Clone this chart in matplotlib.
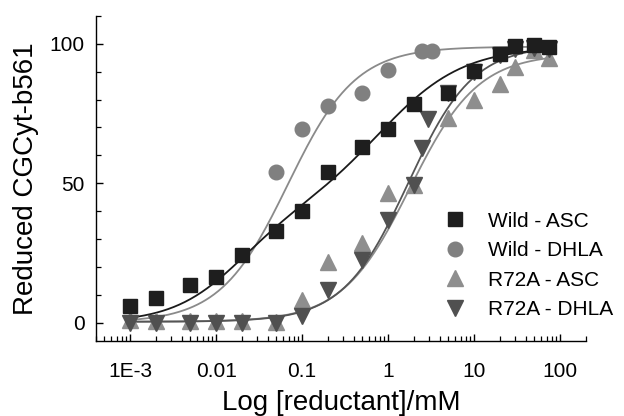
import matplotlib
matplotlib.use("Agg")
import matplotlib.pyplot as plt
import numpy as np
from matplotlib.ticker import LogLocator, MultipleLocator, FixedLocator

plt.rcParams['font.family'] = ['Liberation Sans', 'DejaVu Sans']

# concentrations (mM)
conc = [0.001, 0.002, 0.005, 0.01, 0.02, 0.05, 0.1, 0.2, 0.5, 1, 2, 5, 10, 20, 30, 50, 75]

# Wild - ASC
wild_asc_x = conc
wild_asc_y = [6.1, 8.8, 13.5, 16.2, 24.3, 32.9, 40.1, 54.2, 63.0, 69.5, 78.6, 82.4, 90.2, 96.5, 99.4, 99.7, 98.9]

# Wild - DHLA
wild_dhla_x = [0.05, 0.1, 0.2, 0.5, 1, 2.45, 3.2]
wild_dhla_y = [54.2, 69.5, 77.8, 82.4, 90.8, 97.3, 97.3]

# R72A - ASC
r72a_asc_x = conc
r72a_asc_y = [1.0, 0.5, 0.5, 0.5, 0.5, 0.3, 8.2, 21.9, 28.6, 46.5, 49.5, 73.4, 79.7, 85.7, 91.7, 97.7, 95.0]

# R72A - DHLA
r72a_dhla_x = [0.001, 0.002, 0.005, 0.01, 0.02, 0.05, 0.1, 0.2, 0.5, 1, 2, 2.45, 2.9, 5, 10, 20, 30, 50, 75]
r72a_dhla_y = [0.0, 0.0, 0.0, 0.0, 0.0, 0.0, 2.5, 11.7, 22.5, 36.9, 49.5, 62.6, 73.0, 82.4, 90.0, 96.0, 98.0, 98.5, 98.0]

# fitted curve parameters (Hill; Wild - ASC is two-phase)
wild_asc_fit = [(40.0, 0.018, 1.1), (59.0, 0.85, 0.9)]   # (amplitude, EC50, n)
wild_dhla_fit = (0.0, 99.0, 0.068, 1.1)                   # (bottom, top, EC50, n)
r72a_asc_fit = (0.3, 96.5, 1.8, 1.1)
r72a_dhla_fit = (0.3, 99.5, 1.7, 1.15)


def hill(x, bottom, top, ec50, n):
    return bottom + (top - bottom) / (1 + (ec50 / x) ** n)


xf = np.logspace(-3, np.log10(75), 300)
y_wild_asc = sum(a / (1 + (c / xf) ** n) for a, c, n in wild_asc_fit)

fig = plt.figure(figsize=(6.24, 4.16), dpi=100)
ax = fig.add_axes([96 / 624, 1 - 340.7 / 416, 490 / 624, 324.7 / 416])

ax.plot(xf, hill(xf, *r72a_asc_fit), color='#8c8c8c', lw=1.3, zorder=2)
ax.plot(xf, hill(xf, *r72a_dhla_fit), color='#555555', lw=1.3, zorder=2)
ax.plot(xf, hill(xf, *wild_dhla_fit), color='#8a8a8a', lw=1.3, zorder=2)
ax.plot(xf, y_wild_asc, color='#1a1a1a', lw=1.3, zorder=2)

ax.plot(wild_asc_x, wild_asc_y, 's', color='#1e1e1e', ms=9.5, ls='none', label='Wild - ASC', zorder=6)
ax.plot(wild_dhla_x, wild_dhla_y, 'o', color='#808080', ms=10.5, ls='none', label='Wild - DHLA', zorder=3)
ax.plot(r72a_asc_x, r72a_asc_y, '^', color='#8e8e8e', ms=11, ls='none', label='R72A - ASC', zorder=4)
ax.plot(r72a_dhla_x, r72a_dhla_y, 'v', color='#505050', ms=11, ls='none', label='R72A - DHLA', zorder=5)

ax.set_xscale('log')
ax.set_xlim(4e-4, 200)
ax.set_ylim(-6.5, 110)

ax.xaxis.set_major_locator(FixedLocator([1e-3, 1e-2, 1e-1, 1, 10, 100]))
ax.set_xticklabels(['1E-3', '0.01', '0.1', '1', '10', '100'])
ax.xaxis.set_minor_locator(LogLocator(base=10, subs=np.arange(2, 10), numticks=20))
ax.yaxis.set_major_locator(FixedLocator([0, 50, 100]))
ax.yaxis.set_minor_locator(MultipleLocator(10))

for s in ['top', 'right']:
    ax.spines[s].set_visible(False)
for s in ['left', 'bottom']:
    ax.spines[s].set_linewidth(1.0)

ax.tick_params(which='major', direction='in', length=5, width=1.0, labelsize=15)
ax.tick_params(axis='x', which='major', pad=15)
ax.tick_params(axis='y', which='major', pad=8)
ax.tick_params(which='minor', direction='in', length=3.5, width=0.9)

ax.set_xlabel('Log [reductant]/mM', fontsize=20, labelpad=7)
ax.set_ylabel('Reduced CGCyt-b561', fontsize=20, labelpad=8)

ax.legend(loc='center left', bbox_to_anchor=(0.685, 0.232), frameon=False, fontsize=15,
          handlelength=1.2, handletextpad=1.0, labelspacing=0.5, borderpad=0)

fig.savefig('out.png', dpi=100)
